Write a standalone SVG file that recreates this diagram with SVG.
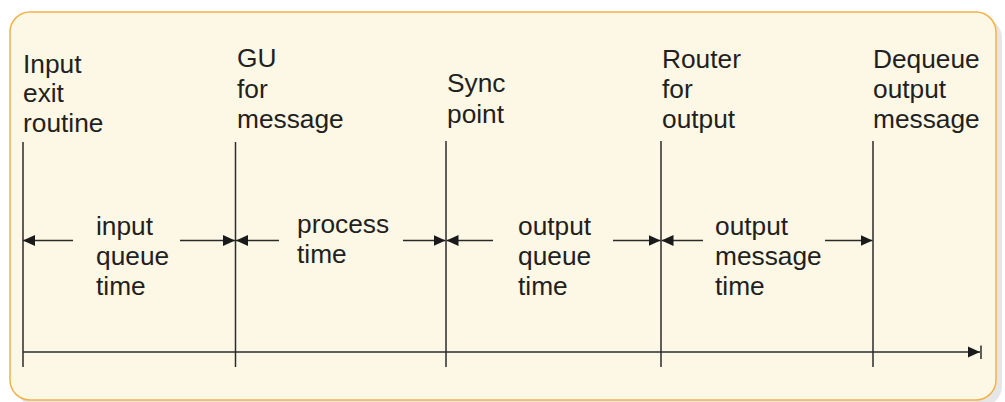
<svg xmlns="http://www.w3.org/2000/svg" width="1005" height="402" viewBox="0 0 1005 402">
<style>
text{font-family:"Liberation Sans",Arial,sans-serif;font-size:26.3px;fill:#231f20}
.ln{stroke:#2b2b2b;stroke-width:1.5;fill:none}
.ar{stroke:#2b2b2b;stroke-width:1.5;fill:none;marker-end:url(#ah)}
</style>
<defs>
<marker id="ah" markerWidth="12" markerHeight="12" viewBox="0 0 12 12" refX="12" refY="6" orient="auto" markerUnits="userSpaceOnUse">
<path d="M0,0.5 L12,6 L0,11.5 Z" fill="#1a1a1a"/>
</marker>
</defs>
<rect x="0" y="0" width="1005" height="402" fill="#ffffff"/>
<rect x="16" y="18" width="986" height="388" rx="20" fill="#e6e6e6"/>
<rect x="10" y="12" width="986" height="388" rx="20" fill="#fdf7e5" stroke="#f2b24a" stroke-width="1.5"/>
<g id="n1">
<line class="ln" x1="23" y1="142" x2="23" y2="367"/>
<text x="23" y="73">Input</text><text x="23" y="102">exit</text><text x="23" y="132">routine</text>
</g>
<g id="n2">
<line class="ln" x1="235.5" y1="142" x2="235.5" y2="367"/>
<text x="237" y="67">GU</text><text x="237" y="98">for</text><text x="237" y="128">message</text>
</g>
<g id="n3">
<line class="ln" x1="446" y1="141" x2="446" y2="367"/>
<text x="447" y="92">Sync</text><text x="447" y="123">point</text>
</g>
<g id="n4">
<line class="ln" x1="661" y1="141" x2="661" y2="367"/>
<text x="662" y="68">Router</text><text x="662" y="98">for</text><text x="662" y="128">output</text>
</g>
<g id="n5">
<line class="ln" x1="873" y1="141" x2="873" y2="367"/>
<text x="873" y="68">Dequeue</text><text x="873" y="98">output</text><text x="873" y="128">message</text>
</g>
<g id="l1"><text x="96" y="235">input</text><text x="96" y="265">queue</text><text x="96" y="295">time</text></g>
<g id="l2"><text x="297" y="233">process</text><text x="297" y="263">time</text></g>
<g id="l3"><text x="518" y="235">output</text><text x="518" y="265">queue</text><text x="518" y="295">time</text></g>
<g id="l4"><text x="715" y="235">output</text><text x="715" y="265">message</text><text x="715" y="295">time</text></g>
<g id="connectors">
<line class="ar" x1="73" y1="240.5" x2="23" y2="240.5"/>
<line class="ar" x1="180" y1="240.5" x2="235" y2="240.5"/>
<line class="ar" x1="279" y1="240.5" x2="236" y2="240.5"/>
<line class="ar" x1="403" y1="240.5" x2="445.5" y2="240.5"/>
<line class="ar" x1="493" y1="240.5" x2="446.5" y2="240.5"/>
<line class="ar" x1="613" y1="240.5" x2="660.5" y2="240.5"/>
<line class="ar" x1="703" y1="240.5" x2="661.5" y2="240.5"/>
<line class="ar" x1="825" y1="240.5" x2="872.5" y2="240.5"/>
<line class="ar" x1="23" y1="352" x2="980" y2="352"/>
<line class="ln" x1="981" y1="345.5" x2="981" y2="359"/>
</g>
</svg>
